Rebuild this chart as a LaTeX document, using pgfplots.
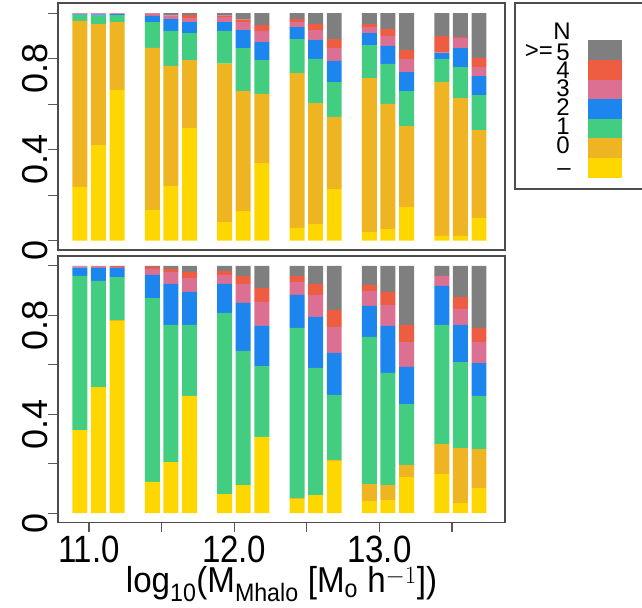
\documentclass[border=0pt]{standalone}
\usepackage{fontspec}
\setmainfont{Liberation Sans}
\newfontfamily\narrowsans{Liberation Sans}[FakeStretch=0.87]
\newfontfamily\titlesans{Liberation Sans}[FakeStretch=0.92]
\usepackage{pgfplots}
\usepackage{pgfplotstable}
\pgfplotsset{compat=1.18}

\definecolor{cGray}{HTML}{7F7F7F}
\definecolor{cRed}{HTML}{EE5C42}
\definecolor{cPink}{HTML}{DB7093}
\definecolor{cBlue}{HTML}{1C86EE}
\definecolor{cGreen}{HTML}{43CD80}
\definecolor{cOrange}{HTML}{EEB422}
\definecolor{cYellow}{HTML}{FFD700}

% fractions per bar: no value, N = 0, 1, 2, 3, 4, >=5
\pgfplotstableread{
x      none  zero  one   two   three four  five
10.937 0.236 0.730 0.027 0.002 0.003 0.001 0.001
11.065 0.420 0.532 0.038 0.005 0.003 0.001 0.001
11.193 0.662 0.299 0.031 0.004 0.003 0.001 0.000
11.436 0.135 0.713 0.113 0.027 0.008 0.002 0.002
11.564 0.240 0.528 0.154 0.052 0.015 0.002 0.009
11.692 0.495 0.299 0.119 0.048 0.019 0.012 0.008
11.934 0.082 0.696 0.144 0.039 0.022 0.006 0.011
12.062 0.130 0.528 0.189 0.079 0.035 0.012 0.027
12.190 0.341 0.304 0.149 0.079 0.049 0.026 0.052
12.433 0.056 0.681 0.149 0.053 0.022 0.013 0.026
12.561 0.073 0.532 0.194 0.083 0.044 0.026 0.048
12.689 0.227 0.317 0.153 0.093 0.057 0.039 0.114
12.931 0.038 0.677 0.145 0.053 0.026 0.013 0.048
13.059 0.051 0.550 0.176 0.079 0.044 0.030 0.070
13.187 0.148 0.356 0.154 0.083 0.058 0.039 0.162
13.430 0.021 0.676 0.102 0.026 0.002 0.073 0.100
13.558 0.021 0.606 0.136 0.084 0.045 0.003 0.105
13.686 0.100 0.386 0.154 0.084 0.039 0.040 0.197
}\toptab

\pgfplotstableread{
x      none  zero  one   two   three four  five
10.937 0.336 0.000 0.624 0.033 0.005 0.001 0.001
11.065 0.510 0.000 0.429 0.053 0.005 0.002 0.001
11.193 0.777 0.004 0.174 0.037 0.004 0.003 0.001
11.436 0.126 0.000 0.744 0.094 0.024 0.008 0.004
11.564 0.206 0.000 0.555 0.166 0.049 0.012 0.012
11.692 0.474 0.000 0.287 0.134 0.056 0.025 0.024
11.934 0.077 0.000 0.733 0.117 0.037 0.016 0.020
12.062 0.113 0.000 0.543 0.194 0.077 0.033 0.040
12.190 0.308 0.000 0.287 0.162 0.097 0.057 0.089
12.433 0.057 0.004 0.688 0.134 0.052 0.025 0.040
12.561 0.073 0.000 0.514 0.207 0.089 0.044 0.073
12.689 0.211 0.004 0.263 0.170 0.105 0.069 0.178
12.931 0.049 0.068 0.596 0.125 0.061 0.024 0.077
13.059 0.053 0.060 0.454 0.190 0.085 0.053 0.105
13.187 0.146 0.048 0.247 0.150 0.101 0.069 0.239
13.430 0.158 0.121 0.482 0.158 0.041 0.000 0.040
13.558 0.040 0.223 0.348 0.150 0.065 0.048 0.126
13.686 0.101 0.158 0.215 0.133 0.085 0.057 0.251
}\bottab

\pgfplotsset{
  panel/.style={
    scale only axis, width=447bp,
    xmin=10.7865, xmax=13.865,
    ybar stacked, bar width=0.103,
    ytick={0,0.2,0.4,0.6,0.8,1}, yticklabels={0,,0.4,,0.8,},
    ytick pos=left, xtick pos=bottom,
    tick align=outside, major tick length=10bp,
    tick style={black!65, line width=1.2bp},
    axis line style={black!70, line width=1.3bp},
    yticklabel style={rotate=90, anchor=south, inner sep=0pt, xshift=-10bp,
      font=\fontsize{36bp}{36bp}\selectfont},
    every axis plot/.append style={draw=none},
  },
}

\newcommand{\stackbars}[1]{%
  \addplot[fill=cYellow] table[x=x, y=none]  {#1};
  \addplot[fill=cOrange] table[x=x, y=zero]  {#1};
  \addplot[fill=cGreen]  table[x=x, y=one]   {#1};
  \addplot[fill=cBlue]   table[x=x, y=two]   {#1};
  \addplot[fill=cPink]   table[x=x, y=three] {#1};
  \addplot[fill=cRed]    table[x=x, y=four]  {#1};
  \addplot[fill=cGray]   table[x=x, y=five]  {#1};
}

\begin{document}
\begin{tikzpicture}
\useasboundingbox (0bp,0bp) rectangle (642bp,608bp);

% upper panel
\begin{axis}[panel, at={(58bp,358bp)}, anchor=south west,
    height=247bp, ymin=-0.041, ymax=1.045, xtick=\empty]
  \stackbars{\toptab}
\end{axis}

% lower panel
\begin{axis}[panel, at={(58bp,85.5bp)}, anchor=south west,
    height=266.5bp, ymin=-0.038, ymax=1.040,
    xtick={11,11.5,12,12.5,13,13.5},
    xticklabels={11.0,,12.0,,13.0,},
    xticklabel style={anchor=north, inner sep=0pt, yshift=-3bp,
      font=\narrowsans\fontsize{38bp}{38bp}\selectfont},
    xlabel={log\textsubscript{10}(M\textsubscript{Mhalo} [M\textsubscript{o} h$^{-1}$])},
    xlabel style={at={(axis description cs:0.5,-0.261)}, anchor=base,
      inner sep=0pt, font=\titlesans\fontsize{36bp}{36bp}\selectfont}]
  \stackbars{\bottab}
\end{axis}

% colour key
\begin{scope}[x=1bp, y=1bp]
\draw[black!70, line width=1.3bp] (515,419) rectangle (660,605);
\fill[cGray]   (588,568) rectangle (622,548);
\fill[cRed]    (588,548) rectangle (622,528);
\fill[cPink]   (588,528) rectangle (622,509);
\fill[cBlue]   (588,509) rectangle (622,489);
\fill[cGreen]  (588,489) rectangle (622,470);
\fill[cOrange] (588,470) rectangle (622,450);
\fill[cYellow] (588,450) rectangle (622,430);
\begin{scope}[every node/.style={inner sep=0pt, font=\fontsize{24bp}{24bp}\selectfont}]
  \node at (562,577) {N};
  \node at (563,556) {5};
  \node[anchor=east] at (553,556) {>=};
  \node at (563,538) {4};
  \node at (563,520) {3};
  \node at (563,501) {2};
  \node at (563,482) {1};
  \node at (563,463) {0};
  \node[anchor=base] at (564,432) {–};
\end{scope}
\end{scope}
\end{tikzpicture}
\end{document}
